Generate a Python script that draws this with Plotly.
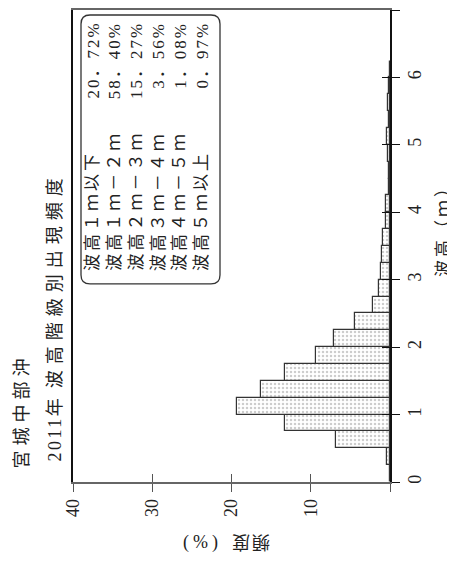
import plotly.graph_objects as go

# ---- data ----
bin_start = [0.0, 0.25, 0.5, 0.75, 1.0, 1.25, 1.5, 1.75, 2.0, 2.25, 2.5, 2.75,
             3.0, 3.25, 3.5, 3.75, 4.0, 4.25, 4.5, 4.75, 5.0, 5.25, 5.5, 5.75, 6.0]
freq = [0.0, 0.4, 6.8, 13.3, 19.3, 16.3, 13.3, 9.4, 7.1, 4.4, 2.2, 1.4,
        1.1, 1.05, 0.9, 0.5, 0.45, 0.12, 0.15, 0.3, 0.35, 0.15, 0.3, 0.1, 0.05]
bin_width = 0.25

freq_ticks = [0, 10, 20, 30, 40]
freq_ticktext = ["", "10", "20", "30", "40"]
height_ticks = [0, 1, 2, 3, 4, 5, 6, 7]

class_labels = ["波高１ｍ以下", "波高１ｍ－２ｍ", "波高２ｍ－３ｍ",
                "波高３ｍ－４ｍ", "波高４ｍ－５ｍ", "波高５ｍ以上"]
class_values = ["20．72%", "58．40%", "15．27%", "3．56%", "1．08%", "0．97%"]

title1 = "宮城中部沖"
title2_year = "2011"
title2_rest = "波高階級別出現頻度"

# ---- layout geometry (reference pixels; page has an 8px body margin) ----
OFF = 8
W, H = 455 - OFF, 562 - OFF
L, R, T, B = 73, 390, OFF, 482
FONT = "'Liberation Serif', 'Noto Sans CJK JP', serif"

def px(x):
    return (x - L) / (R - L)

def py(y):
    return (B - y) / (B - T)

centers = [s + bin_width / 2 for s in bin_start]

fig = go.Figure()
fig.add_trace(go.Bar(
    x=freq, y=centers, orientation="h", width=bin_width,
    marker=dict(color="white",
                line=dict(color="#333333", width=1.2),
                pattern=dict(shape=".", fgcolor="#9a9a9a", bgcolor="white",
                             size=4, solidity=0.3)),
    showlegend=False, hoverinfo="skip"))
fig.add_trace(go.Scatter(x=[], y=[], xaxis="x2", yaxis="y2",
                         showlegend=False, hoverinfo="skip"))

fig.update_layout(
    width=W, height=H,
    margin=dict(l=L - OFF, r=455 - R, t=T - OFF, b=562 - B, pad=0),
    paper_bgcolor="white", plot_bgcolor="white",
    bargap=0,
    font=dict(family=FONT, size=18, color="#222"),
    xaxis=dict(range=[40, 0], tickvals=freq_ticks, ticktext=freq_ticktext,
               ticks="outside", ticklen=8, tickwidth=1.2, tickcolor="#555",
               tickangle=-90, tickfont=dict(family=FONT, size=18, color="#222"),
               showline=True, linecolor="#666", linewidth=1.5, mirror=True,
               showgrid=False, zeroline=False, fixedrange=True),
    xaxis2=dict(range=[40, 0], overlaying="x", anchor="y", side="bottom",
                tickvals=freq_ticks[1:], ticks="inside", ticklen=8, tickwidth=1.2,
                tickcolor="#555", showticklabels=False, showline=False,
                showgrid=False, zeroline=False),
    yaxis=dict(range=[0, 7], side="right", tickvals=height_ticks,
               ticks="outside", ticklen=8, tickwidth=1.2, tickcolor="#111",
               tickangle=-90, ticklabelstandoff=0,
               tickfont=dict(family=FONT, size=18, color="#222"),
               showline=True, linecolor="#111", linewidth=1.6, mirror=True,
               showgrid=False, zeroline=False, fixedrange=True),
    yaxis2=dict(range=[0, 7], overlaying="y", anchor="x", side="right",
                tickvals=height_ticks, ticks="inside", ticklen=8, tickwidth=1.2,
                tickcolor="#111", showticklabels=False, showline=False,
                showgrid=False, zeroline=False),
)

ann = []
def add(text, x, y, xa, ya, angle, size=18, spacing=0):
    if spacing:
        text = f"<span style='letter-spacing:{spacing}px'>{text}</span>"
    ann.append(dict(text=text, x=px(x), y=py(y), xref="paper", yref="paper",
                    xanchor=xa, yanchor=ya, textangle=angle, showarrow=False,
                    borderpad=0, font=dict(family=FONT, size=size, color="#222")))

# titles
add(title1, 22, 470, "center", "bottom", -90, 18, 5)
ann.append(dict(
    text=(f"<span style='letter-spacing:2.5px'>{title2_year}</span>"
          f"<span style='letter-spacing:10px'>年</span>"
          f"<span style='letter-spacing:6px'>{title2_rest}</span>"),
    x=px(55), y=py(463), xref="paper", yref="paper", xanchor="center",
    yanchor="bottom", textangle=-90, showarrow=False, borderpad=0,
    font=dict(family=FONT, size=18, color="#222")))

# axis titles
add("波高（ｍ）", 443, 226, "center", "middle", -90, 17, 3)
add("(%)", 202, 543, "center", "middle", 0, 18, 4)
add("頻度", 250, 543, "center", "middle", 180, 18, 2)

# legend box content
for i, (lab, val) in enumerate(zip(class_labels, class_values)):
    xc = 93 + i * 21.8
    add(lab, xc, 271, "center", "bottom", -90, 17, 3)
    add(val, xc, 19, "center", "top", -90, 17, 2)

fig.update_layout(annotations=ann)

# rounded legend box
x0, x1, y0, y1, r = 81, 220, 13, 283, 9
rx, ry = r / (R - L), r / (B - T)
X0, X1, Y0, Y1 = px(x0), px(x1), py(y1), py(y0)
path = (f"M {X0+rx},{Y0} L {X1-rx},{Y0} Q {X1},{Y0} {X1},{Y0+ry} "
        f"L {X1},{Y1-ry} Q {X1},{Y1} {X1-rx},{Y1} L {X0+rx},{Y1} "
        f"Q {X0},{Y1} {X0},{Y1-ry} L {X0},{Y0+ry} Q {X0},{Y0} {X0+rx},{Y0} Z")
fig.add_shape(type="path", path=path, xref="paper", yref="paper",
              line=dict(color="#333", width=1.3), fillcolor="rgba(0,0,0,0)")

fig.write_html("out.html")
